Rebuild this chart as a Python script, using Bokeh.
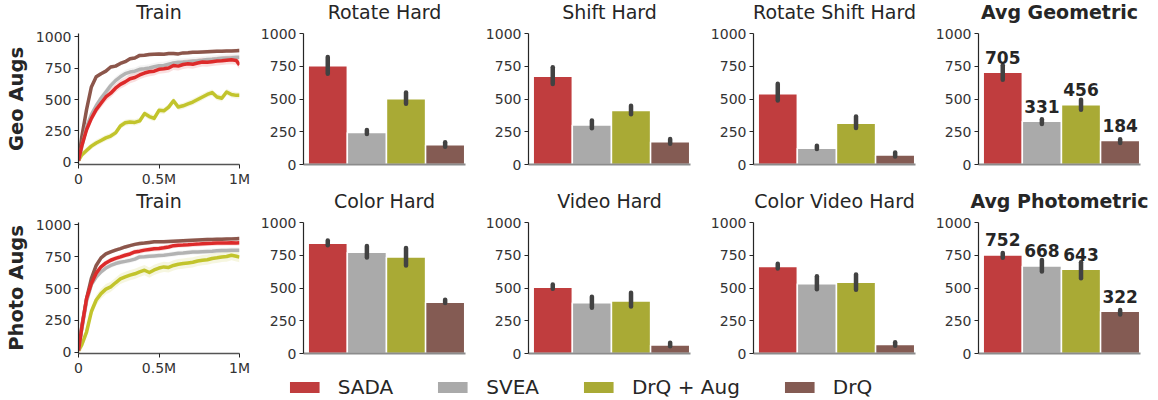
from bokeh.plotting import figure
from bokeh.layouts import column, row
from bokeh.models import (ColumnDataSource, FixedTicker, CustomJSTickFormatter,
                          Legend, LegendItem, Range1d)
from bokeh.core.properties import value
from bokeh.embed import file_html
from bokeh.resources import INLINE

FONT = "DejaVu Sans"
INK = "#262626"

methods = ["SADA", "SVEA", "DrQ + Aug", "DrQ"]
bar_colors = ["#c03d3e", "#aaaaaa", "#a9aa35", "#845b53"]
line_colors = ["#dd2a2a", "#b3b3b3", "#c2c42c", "#8c564b"]

# ---- training curves (environment steps, millions) ----
steps_m = [0, 0.02, 0.05, 0.08, 0.11, 0.14, 0.17, 0.2, 0.23, 0.26, 0.29, 0.32,
           0.35, 0.38, 0.41, 0.44, 0.47, 0.5, 0.53, 0.56, 0.59, 0.62, 0.65,
           0.68, 0.71, 0.74, 0.77, 0.8, 0.83, 0.86, 0.89, 0.92, 0.95, 0.98, 1.0]

geo_sada = [15, 130, 260, 350, 420, 470, 520, 550, 590, 620, 640, 665, 675, 695,
            710, 720, 725, 740, 744, 750, 770, 765, 778, 784, 780, 790, 797, 795,
            800, 805, 808, 812, 815, 810, 775]
geo_svea = [15, 120, 280, 380, 450, 510, 560, 610, 650, 680, 705, 718, 725, 740,
            744, 750, 760, 768, 770, 780, 790, 795, 797, 800, 805, 808, 812, 818,
            820, 823, 828, 830, 832, 835, 836]
geo_drq_aug = [15, 60, 95, 130, 155, 175, 195, 210, 235, 290, 315, 322, 318, 330,
               388, 365, 350, 414, 410, 440, 490, 440, 450, 465, 480, 500, 520,
               540, 555, 520, 510, 560, 540, 533, 533]
geo_drq = [15, 200, 420, 600, 680, 705, 725, 758, 765, 786, 800, 823, 830, 850,
           852, 858, 860, 862, 860, 865, 865, 862, 870, 872, 875, 876, 878, 880,
           882, 884, 884, 886, 886, 888, 889]

photo_sada = [15, 190, 420, 540, 620, 670, 700, 721, 735, 747, 760, 770, 786, 792,
              800, 805, 810, 812, 818, 825, 835, 839, 840, 842, 845, 847, 850, 852,
              853, 855, 855, 856, 857, 856, 857]
photo_svea = [15, 180, 400, 530, 590, 630, 660, 680, 695, 705, 712, 720, 730, 747,
              748, 752, 755, 758, 760, 765, 770, 775, 778, 782, 786, 786, 788, 790,
              792, 795, 797, 798, 800, 800, 800]
photo_drq_aug = [15, 60, 160, 320, 410, 460, 495, 513, 545, 575, 591, 605, 615,
                 630, 643, 625, 645, 660, 669, 665, 680, 690, 695, 700, 705, 715,
                 721, 725, 735, 740, 747, 750, 760, 752, 745]
photo_drq = [15, 200, 420, 580, 680, 740, 770, 786, 800, 812, 825, 835, 845, 852,
             855, 860, 865, 865, 866, 868, 870, 872, 874, 876, 878, 880, 882, 883,
             884, 885, 886, 887, 888, 889, 890]

# half-width of the shaded spread around each curve
geo_spread = [35, 30, 25, 15]
photo_spread = [20, 20, 40, 15]

# ---- evaluation bars: mean and interval per method ----
rotate_hard = [754, 245, 501, 151]
rotate_hard_lo = [693, 233, 463, 136]
rotate_hard_hi = [821, 263, 550, 169]

shift_hard = [673, 302, 412, 174]
shift_hard_lo = [614, 276, 384, 159]
shift_hard_hi = [742, 335, 448, 194]

rotate_shift_hard = [540, 125, 315, 72]
rotate_shift_hard_lo = [488, 118, 279, 61]
rotate_shift_hard_hi = [616, 143, 366, 92]

avg_geometric = [705, 331, 456, 184]
avg_geometric_lo = [647, 309, 417, 164]
avg_geometric_hi = [757, 345, 494, 192]

color_hard = [841, 772, 736, 392]
color_hard_lo = [826, 733, 672, 385]
color_hard_hi = [862, 821, 805, 410]

video_hard = [505, 387, 400, 64]
video_hard_lo = [495, 349, 359, 56]
video_hard_hi = [526, 433, 464, 82]

color_video_hard = [664, 533, 544, 69]
color_video_hard_lo = [649, 490, 487, 59]
color_video_hard_hi = [685, 590, 603, 85]

avg_photometric = [752, 668, 643, 322]
avg_photometric_lo = [731, 626, 574, 297]
avg_photometric_hi = [767, 713, 697, 333]

y_ticks = [0, 250, 500, 750, 1000]

TOP = 46          # room above each frame for the panel title
FRAME_H = 131
BOTTOM = 27       # room below each frame for the step tick labels


def style_common(p, title_bold=False):
    p.toolbar.logo = None
    p.outline_line_color = None
    p.xgrid.visible = False
    p.ygrid.visible = False
    p.background_fill_color = "white"
    p.border_fill_color = None      # rows overlap slightly; keep borders see-through
    p.title.align = "center"
    p.title.text_font = FONT
    p.title.text_font_size = "19px"
    p.title.text_color = INK
    p.title.text_font_style = "bold" if title_bold else "normal"
    p.title.standoff = 21
    ya = p.yaxis[0]
    ya.ticker = FixedTicker(ticks=y_ticks)
    ya.axis_line_color = INK
    ya.axis_line_width = 1.2
    ya.major_tick_line_color = INK
    ya.major_tick_line_width = 1.2
    ya.major_tick_out = 4
    ya.major_tick_in = 0
    ya.minor_tick_line_color = None
    ya.major_label_text_font = FONT
    ya.major_label_text_font_size = "14px"
    ya.major_label_text_color = "#333333"
    ya.major_label_standoff = 3


def train_panel(title, ylabel, curves, spread, y_lo, y_hi):
    p = figure(width=250, height=TOP + FRAME_H + BOTTOM, title=title,
               output_backend="svg", toolbar_location=None,
               x_range=Range1d(0, 1), y_range=Range1d(y_lo, y_hi),
               min_border_left=78, min_border_right=11, min_border_top=TOP,
               min_border_bottom=BOTTOM)
    style_common(p)
    order = [3, 2, 1, 0]
    for i in order:
        ys = curves[i]
        src = ColumnDataSource(dict(x=steps_m, y=ys,
                                    lo=[v - spread[i] for v in ys],
                                    hi=[v + spread[i] for v in ys]))
        p.varea(x="x", y1="lo", y2="hi", source=src, fill_color=line_colors[i],
                fill_alpha=0.15)
    for i in order:
        src = ColumnDataSource(dict(x=steps_m, y=curves[i]))
        p.line(x="x", y="y", source=src, line_color=line_colors[i],
               line_width=3.5, line_join="round")
    xa = p.xaxis[0]
    xa.ticker = FixedTicker(ticks=[0, 0.5, 1])
    xa.formatter = CustomJSTickFormatter(
        code="return tick == 0 ? '0' : (tick + 'M');")
    xa.axis_line_color = "#555555"
    xa.axis_line_width = 1.5
    xa.major_tick_line_color = INK
    xa.major_tick_out = 4
    xa.major_tick_in = 0
    xa.minor_tick_line_color = None
    xa.major_label_text_font = FONT
    xa.major_label_text_font_size = "14px"
    xa.major_label_text_color = "#333333"
    xa.major_label_standoff = 2
    ya = p.yaxis[0]
    ya.axis_label = ylabel
    ya.axis_label_text_font = FONT
    ya.axis_label_text_font_style = "bold"
    ya.axis_label_text_font_size = "19.5px"
    ya.axis_label_text_color = INK
    ya.axis_label_standoff = 5
    return p


def bar_panel(title, means, lo, hi, labelled=False):
    p = figure(width=225, height=TOP + FRAME_H + BOTTOM, title=title,
               output_backend="svg", toolbar_location=None,
               x_range=Range1d(-0.62, 3.52), y_range=Range1d(0, 1000),
               min_border_left=53, min_border_right=10, min_border_top=TOP,
               min_border_bottom=BOTTOM)
    style_common(p, title_bold=labelled)
    xs = list(range(len(methods)))
    src = ColumnDataSource(dict(x=xs, top=means, lo=lo, hi=hi, color=bar_colors,
                                label=[str(v) for v in means]))
    p.vbar(x="x", top="top", width=1.0, source=src, fill_color="color",
           line_color="white", line_width=1.5)
    p.segment(x0="x", y0="lo", x1="x", y1="hi", source=src,
              line_color="#424242", line_width=4.5, line_cap="round")
    if labelled:
        p.text(x="x", y="top", text="label", source=src, y_offset=-15,
               text_align="center", text_baseline="alphabetic",
               text_font=value(FONT), text_font_style="bold",
               text_font_size="17px", text_color=INK)
    xa = p.xaxis[0]
    xa.ticker = FixedTicker(ticks=[])
    xa.major_label_text_font_size = "0px"
    xa.major_tick_line_color = None
    xa.minor_tick_line_color = None
    xa.axis_line_color = "#8c8c8c"
    xa.axis_line_width = 2
    return p


geo_row = row(
    train_panel("Train", "Geo Augs",
                [geo_sada, geo_svea, geo_drq_aug, geo_drq], geo_spread,
                -16, 1024),
    bar_panel("Rotate Hard", rotate_hard, rotate_hard_lo, rotate_hard_hi),
    bar_panel("Shift Hard", shift_hard, shift_hard_lo, shift_hard_hi),
    bar_panel("Rotate Shift Hard", rotate_shift_hard, rotate_shift_hard_lo,
              rotate_shift_hard_hi),
    bar_panel("Avg Geometric", avg_geometric, avg_geometric_lo,
              avg_geometric_hi, labelled=True),
    margin=(-13, 0, 0, 0),
)
photo_row = row(
    train_panel("Train", "Photo Augs",
                [photo_sada, photo_svea, photo_drq_aug, photo_drq], photo_spread,
                -8, 1016),
    bar_panel("Color Hard", color_hard, color_hard_lo, color_hard_hi),
    bar_panel("Video Hard", video_hard, video_hard_lo, video_hard_hi),
    bar_panel("Color Video Hard", color_video_hard, color_video_hard_lo,
              color_video_hard_hi),
    bar_panel("Avg Photometric", avg_photometric, avg_photometric_lo,
              avg_photometric_hi, labelled=True),
    margin=(-15, 0, 0, 0),
)

# shared legend strip: zero-height proxy bars carry the swatch colours
leg = figure(width=1158, height=25, output_backend="svg", toolbar_location=None,
             x_range=Range1d(0, 1), y_range=Range1d(0, 1), min_border=0,
             margin=(-6, 0, 0, 0))
leg.axis.visible = False
leg.xgrid.visible = False
leg.ygrid.visible = False
leg.outline_line_color = None
leg.border_fill_color = None
leg.background_fill_alpha = 0
items = []
for name, c in zip(methods, bar_colors):
    r = leg.vbar(x=[0.5], bottom=[0], top=[0], width=0, fill_color=c,
                 line_color=None)
    items.append(LegendItem(label=name, renderers=[r]))
legend = Legend(items=items, orientation="horizontal", location="center",
                glyph_width=37, glyph_height=14, label_text_font=FONT,
                label_text_font_size="20px", label_text_color=INK,
                spacing=41, label_standoff=15, border_line_color=None,
                background_fill_alpha=0, padding=0, margin=0)
leg.add_layout(legend, "center")

page = column(geo_row, photo_row, leg)
open("out.html", "w").write(file_html(page, INLINE))
